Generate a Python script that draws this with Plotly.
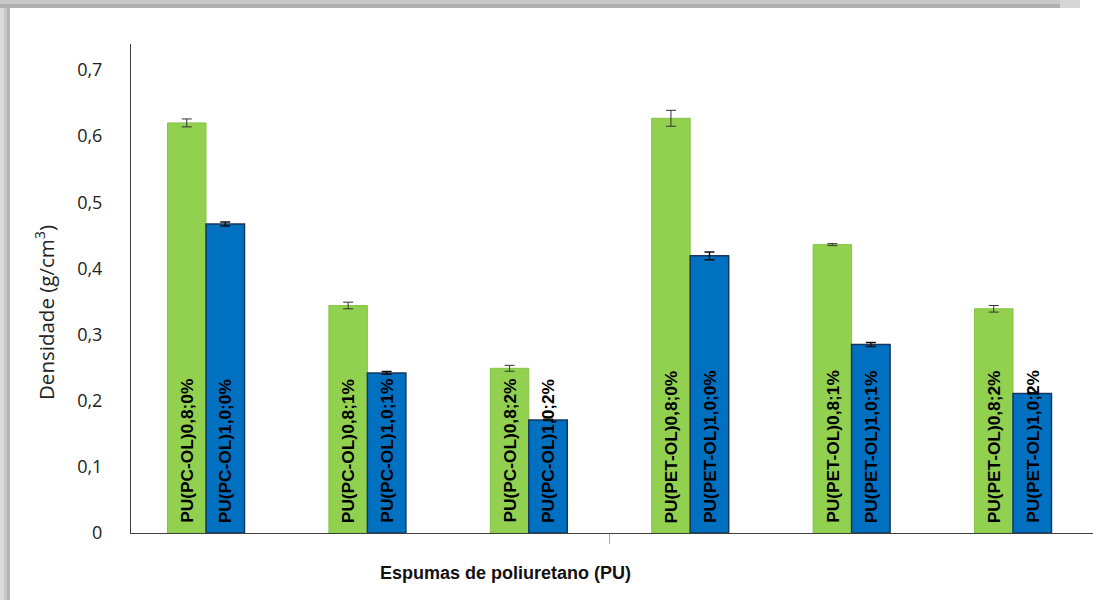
import plotly.graph_objects as go

# Foam formulations (0.8 / 1.0 index, 0-2 % additive) for PC-OL and PET-OL polyols
labels_08 = ["PU(PC-OL)0,8;0%", "PU(PC-OL)0,8;1%", "PU(PC-OL)0,8;2%",
             "PU(PET-OL)0,8;0%", "PU(PET-OL)0,8;1%", "PU(PET-OL)0,8;2%"]
labels_10 = ["PU(PC-OL)1,0;0%", "PU(PC-OL)1,0;1%", "PU(PC-OL)1,0;2%",
             "PU(PET-OL)1,0;0%", "PU(PET-OL)1,0;1%", "PU(PET-OL)1,0;2%"]

density_08 = [0.620, 0.344, 0.249, 0.627, 0.436, 0.339]
error_08 = [0.006, 0.005, 0.0045, 0.012, 0.0015, 0.005]
density_10 = [0.467, 0.242, 0.171, 0.419, 0.285, 0.211]
error_10 = [0.003, 0.002, 0.001, 0.006, 0.003, 0.001]

y_ticks = [0, 0.1, 0.2, 0.3, 0.4, 0.5, 0.6, 0.7]
y_tick_text = ["0", "0,1", "0,2", "0,3", "0,4", "0,5", "0,6", "0,7"]

W, H = 1093, 602
L, R, T, B = 131, 0, 44, 69
plot_w = W - L - R
plot_h = H - T - B

bar_w = 0.2385
idx = list(range(len(density_08)))
x_08 = [i - bar_w / 2 for i in idx]
x_10 = [i + bar_w / 2 for i in idx]

fig = go.Figure()
fig.add_trace(go.Bar(
    x=x_08, y=density_08, width=bar_w,
    marker=dict(color="#92D050", line=dict(color="#86C446", width=1)),
    error_y=dict(type="data", array=error_08, color="#333333", thickness=1, width=5),
    showlegend=False, hoverinfo="y",
))
fig.add_trace(go.Bar(
    x=x_10, y=density_10, width=bar_w,
    marker=dict(color="#0070C0", line=dict(color="#17375E", width=1.5)),
    error_y=dict(type="data", array=error_10, color="#111111", thickness=1.5, width=5),
    showlegend=False, hoverinfo="y",
))

# Vertical labels inside the bars, reading upward from the base
for xs, names in ((x_08, labels_08), (x_10, labels_10)):
    for xv, name in zip(xs, names):
        fig.add_annotation(
            x=xv, y=0, xref="x", yref="y", text="<b>" + name + "</b>", textangle=-90,
            showarrow=False, xanchor="center", yanchor="bottom", yshift=8,
            font=dict(family="Liberation Sans", size=17.3, color="#000000"),
        )

def px_x(p):
    return (p - L) / plot_w

def px_y(p):
    return (H - B - p) / plot_h

# gray frame bands along the top and left edges, as filled boxes
def band(x0, y0, w, h, color):
    fig.add_annotation(
        x=px_x(x0), y=px_y(y0), xref="paper", yref="paper",
        xanchor="left", yanchor="top", text=" ", showarrow=False,
        width=w, height=h, bgcolor=color, borderpad=0, borderwidth=0,
        font=dict(size=1, color=color),
    )

band(0, 0, 4, H - 2, "#dcdcdc")
band(4, 0, 3, H - 2, "#c8c8c8")
band(7, 0, 3, H - 2, "#b4b4b4")
band(0, 0, 1060, 4, "#c9c9c9")
band(0, 4, 1060, 4, "#b0b0b0")
band(1060, 0, 20, 8, "#d6d6d6")

fig.add_annotation(
    x=px_x(45), y=px_y(313), xref="paper", yref="paper",
    text="Densidade (g/cm<sup>3</sup>)", textangle=-90, showarrow=False,
    xanchor="center", yanchor="middle",
    font=dict(family="Open Sans", size=20.5, color="#222222"),
)
fig.add_annotation(
    x=px_x(505), y=px_y(573), xref="paper", yref="paper",
    text="<b>Espumas de poliuretano (PU)</b>", showarrow=False,
    xanchor="center", yanchor="middle",
    font=dict(family="Liberation Sans", size=18, color="#111111"),
)

fig.update_layout(
    width=W, height=H,
    margin=dict(l=L, r=R, t=T, b=B, pad=0),
    paper_bgcolor="white", plot_bgcolor="white",
    barmode="overlay",
    xaxis=dict(
        range=[-0.4647, 5.4957], showgrid=False, zeroline=False,
        showline=True, linecolor="#404040", linewidth=1,
        tickmode="array", tickvals=[2.5], ticks="outside",
        ticklen=10, tickcolor="#a8a8a8", tickwidth=1,
        showticklabels=False,
    ),
    yaxis=dict(
        range=[0, 0.7393], showgrid=False, zeroline=False,
        showline=True, linecolor="#404040", linewidth=1,
        tickmode="array", tickvals=y_ticks, ticktext=y_tick_text,
        ticks="", ticklabelstandoff=24,
        tickfont=dict(family="Open Sans", size=18, color="#222222"),
    ),
)

fig.write_html("out.html")
